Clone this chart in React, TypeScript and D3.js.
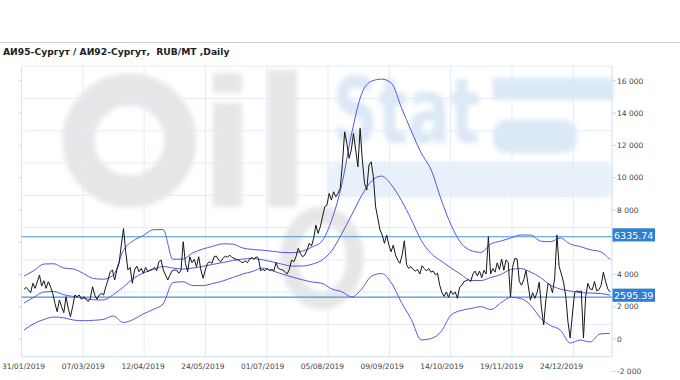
import React from "react";
import * as d3 from "d3";

const TITLE = "АИ95-Сургут / АИ92-Сургут,  RUB/MT ,Daily";

const dateLabels = [
  "31/01/2019", "07/03/2019", "12/04/2019", "24/05/2019", "01/07/2019",
  "05/08/2019", "09/09/2019", "14/10/2019", "19/11/2019", "24/12/2019",
];

const yTicks = [16000, 14000, 12000, 10000, 8000, 6000, 4000, 2000, 0, -2000];

const refLevels = [6335.74, 2595.39];

// daily spread АИ95 - АИ92, RUB/MT
const spread = [
  3078, 3202, 3035, 2868, 3450, 3140, 3549, 3964, 3283, 3611, 3140, 3549, 3240, 2831, 2211, 1691, 2416, 2001, 1629, 2620,
  1902, 1381, 2001, 2725, 2620, 2725, 2459, 2620, 2459, 2310, 2521, 3240, 2725, 2459, 2725, 2831, 2725, 3240, 3654, 4169,
  4274, 3654, 4274, 4689,
  5822, 6840, 5407, 4274, 4441, 3450, 4274, 4522, 4169, 4379, 4069, 4441, 4169, 4274, 4317, 4441, 4231, 4788, 4893, 4274,
  3964, 3654, 3964, 4231, 4274, 4274, 4069, 4274, 6027, 4689, 4169, 5098, 4726, 4937, 4478, 5098, 4274, 3760, 4274, 4689,
  4788, 4689, 5098, 5141, 4893, 4788, 4999, 5141,
  5060, 5203, 5060, 4999, 4937, 4893, 4788, 4726, 4850, 4726, 4937, 5060, 4937, 5098, 4999, 4231, 4317, 4231, 4379, 4231,
  4317, 4231, 4726, 4379, 4317, 4274, 4169, 4026, 4317, 4893, 4788, 5098, 5618, 5308, 5098, 5203, 5513, 5928, 5760, 6237,
  7061, 6547, 6956, 7575, 8195, 8300, 9025, 8610, 9124, 8814, 9025, 9334, 10883, 12840, 12122, 11193, 11707, 12741, 11707, 10672,
  13051,
  11087, 9644, 9229, 10778, 10982, 10053, 8195, 7476, 6751, 6442, 5928, 6442, 5822, 5407, 5822, 5203, 4893, 4689, 5203, 6089,
  4602, 4373, 4491, 4305, 4212, 4305, 4026, 4534, 4373, 4212, 4373, 4144, 4212, 3977, 4076, 3332, 2868, 2639, 2917, 2589,
  2986, 2756, 2917, 2521, 3215, 3332, 3562, 3611, 3679, 3562, 4026, 4212, 3908, 4212, 3797, 4255, 4026, 6340, 4026, 4373,
  4144, 4720, 4305, 4949, 4255, 4906, 4720, 2601, 4491, 4999, 4949, 3562, 3332,
  3679, 4255, 3332, 2409, 2868, 2521, 2868, 3518, 1945, 867, 2409, 3450, 3332, 2868, 3797, 6442, 4491, 4026, 3518, 2639,
  1053, 62, 1549, 2868, 2986, 2917, 2986, 62, 2639, 3450, 3103, 3054, 3562, 2986, 3054, 3332, 4144, 3562, 3103, 2917,
];

// Bollinger bands (upper / middle / lower)
const upperBand = [
  3902, 4243, 4646, 4664, 4398, 4336, 4057, 3747, 3704, 3964, 5482, 6089, 6411, 6770, 6782, 4937, 4955, 5339, 5575, 5742,
  5897, 5884, 5643, 5550, 5500, 5438, 5364, 5345, 5432, 5698, 6070, 7402, 9588, 12760, 15206, 15981, 16104, 15844, 14339, 12884,
  11521, 10468, 8641, 7061, 5946, 5482, 5370, 5884, 6070, 6256, 6442, 6442, 6070, 6027, 6256, 5884, 5729, 5531, 5420, 4924,
];
const middleBand = [
  2230, 2589, 2911, 2942, 2744, 2632, 2527, 2428, 2416, 2756, 3221, 3747, 4088, 4305, 4491, 4398, 4336, 4392, 4503, 4621,
  4738, 4862, 4949, 4992, 4912, 4782, 4633, 4522, 4522, 4633, 4893, 5482, 6535, 7699, 8895, 9799, 10096, 9545, 8585, 7402,
  6101, 5296, 4831, 4398, 3995, 3623, 3623, 3809, 3995, 4305, 4367, 4150, 3809, 3345, 3097, 2973, 2880, 2849, 2818, 2725,
];
const lowerBand = [
  557, 954, 1208, 1363, 1313, 1171, 1134, 1158, 1214, 1425, 1022, 1208, 1549, 1827, 2168, 3500, 3549, 3314, 3308, 3438,
  3593, 3809, 4026, 4181, 4398, 4231, 4026, 3840, 3673, 3531, 3450, 3097, 2930, 2601, 3097, 3902, 4057, 3469, 2261, 1208,
  -60, 30, 465, 1487, 1765, 1889, 2001, 1827, 2230, 2583, 2509, 2106, 1301, 836, 557, -248, -62, -186, 310, 353,
];

const W = 680;
const H = 380;
const PLOT_LEFT = 21.5;
const PLOT_RIGHT = 612;
const GRID_SHIFT = 14.6;
const FONT = "'DejaVu Sans', Verdana, sans-serif";

const y = d3.scaleLinear().domain([0, 16000]).range([339, 80.8]);
const xData = (n: number) => d3.scaleLinear().domain([0, n - 1]).range([24, 610]);
const xLabel = d3.scaleLinear().domain([0, dateLabels.length - 1]).range([23.5, 561.5]);
const xGrid = d3.scaleLinear().domain([0, dateLabels.length - 1]).range([PLOT_LEFT, 573.3]);

const fmt = (v: number) => d3.format(",")(v).replace(/,/g, " ").replace("\u2212", "-");

const BOX_UP = 8.5;
const BOX_H = 13.2;

function seriesPath(vals: number[], curve: d3.CurveFactory) {
  const xs = xData(vals.length);
  return d3
    .line<number>()
    .x((_, i) => xs(i))
    .y((v) => y(v))
    .curve(curve)(vals) as string;
}

function Watermark() {
  const gray = "#e6e6e6";
  const blue = "#dbe8f5";
  return (
    <g filter="url(#wmblur)">
      <circle cx={129.5} cy={140.5} r={51} fill="none" stroke={gray} strokeWidth={32} />
      <rect x={213} y={73} width={29} height={20} fill={gray} />
      <rect x={213} y={103} width={29} height={104} fill={gray} />
      <rect x={268} y={70} width={29} height={137} fill={gray} />
      <ellipse cx={322} cy={258} rx={33} ry={43} fill="none" stroke={gray} strokeWidth={17} />
      <text x={333} y={143} fontFamily={FONT} fontWeight="bold" fontSize={90} fill={blue}
        textLength={147} lengthAdjust="spacingAndGlyphs">Stat</text>
      <rect x={493} y={78} width={120} height={22} fill={blue} />
      <rect x={493} y={120} width={84} height={33} rx={14} fill={blue} />
      <rect x={327} y={162} width={286} height={35} rx={10} fill="#e8f0f9" />
    </g>
  );
}

export default function App() {
  const gridYs = yTicks.map((t) => y(t) - GRID_SHIFT);
  const plotTop = gridYs[0];
  const plotBottom = gridYs[gridYs.length - 1];
  // a tick label that sits under a level box is covered by it in the reference, so it is not drawn
  const visibleTicks = yTicks.filter((t) => !refLevels.some((v) => Math.abs(y(t) - y(v)) < 7));
  return (
    <svg width={W} height={H} style={{ position: "absolute", left: 0, top: 0, background: "#fff" }}
      fontFamily={FONT}>
      <defs>
        <filter id="wmblur" x="-10%" y="-10%" width="120%" height="120%">
          <feGaussianBlur stdDeviation={2.5} />
        </filter>
      </defs>
      <rect x={0} y={0} width={W} height={H} fill="#fff" />
      <line x1={0} x2={W} y1={42.5} y2={42.5} stroke="#cfcfcf" strokeWidth={1} />
      <text x={3} y={55} fontSize={9.2} fontWeight="bold" fill="#222" style={{ whiteSpace: "pre" }}>{TITLE}</text>

      <Watermark />

      {gridYs.map((gy, i) => (
        <line key={"hg" + i} x1={PLOT_LEFT} x2={PLOT_RIGHT} y1={gy} y2={gy} stroke="#e1ecf8" strokeWidth={1} />
      ))}
      {dateLabels.map((_, i) => (
        <line key={"vg" + i} x1={xGrid(i)} x2={xGrid(i)} y1={plotTop} y2={plotBottom} stroke="#e1ecf8" strokeWidth={1} />
      ))}
      <line x1={PLOT_LEFT} x2={PLOT_LEFT} y1={plotTop} y2={plotBottom} stroke="#d3e3f2" />
      <line x1={PLOT_RIGHT} x2={PLOT_RIGHT} y1={plotTop} y2={plotBottom} stroke="#cfe0f1" />
      <line x1={PLOT_LEFT} x2={PLOT_RIGHT} y1={plotBottom} y2={plotBottom} stroke="#d3e3f2" />

      {yTicks.map((t) => (
        <g key={"tk" + t}>
          <line x1={PLOT_LEFT - 3} x2={PLOT_LEFT} y1={y(t)} y2={y(t)} stroke="#c9d9ea" />
          <line x1={PLOT_RIGHT} x2={PLOT_RIGHT + 4} y1={y(t)} y2={y(t)} stroke="#c9d9ea" />
        </g>
      ))}

      {visibleTicks.map((t) => (
        <text key={"yl" + t} x={617} y={y(t) + 2.7} fontSize={7.5} fill="#444">{fmt(t)}</text>
      ))}

      {dateLabels.map((d, i) => (
        <text key={"xl" + d} x={xLabel(i)} y={369} fontSize={7.5} fill="#444" textAnchor="middle">{d}</text>
      ))}

      {refLevels.map((v) => (
        <line key={"rl" + v} x1={PLOT_LEFT} x2={PLOT_RIGHT} y1={y(v)} y2={y(v)} stroke="#4a93dc" strokeWidth={1.2} />
      ))}

      {[upperBand, middleBand, lowerBand].map((b, i) => (
        <path key={"band" + i} d={seriesPath(b, d3.curveMonotoneX)} fill="none" stroke="#5656e2" strokeWidth={1} />
      ))}

      <path d={seriesPath(spread, d3.curveLinear)} fill="none" stroke="#161616" strokeWidth={1} />

      {refLevels.map((v) => (
        <g key={"lb" + v}>
          <rect x={612.5} y={y(v) - BOX_UP} width={42.5} height={BOX_H} fill="#2d80d3" />
          <text x={633.7} y={y(v) + 1.8} fontSize={9.5} fill="#fff" textAnchor="middle">{v.toFixed(2)}</text>
        </g>
      ))}
    </svg>
  );
}
